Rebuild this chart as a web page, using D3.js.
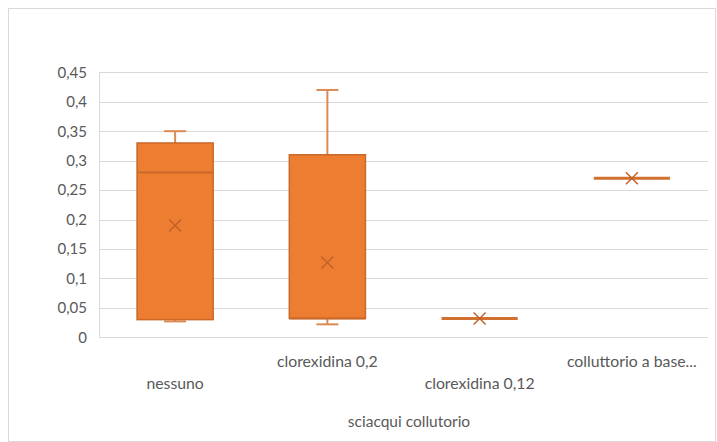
<!DOCTYPE html>
<html><head><meta charset="utf-8">
<script src="https://cdn.jsdelivr.net/npm/d3@7"></script>
<style>body{margin:0;background:#fff}svg{display:block}text{font-family:Lato,"Open Sans",sans-serif;fill:#595959}</style>
</head><body><svg id="c" width="717" height="442"></svg>
<script>
const categories = ["nessuno", "clorexidina 0,2", "clorexidina 0,12", "colluttorio a base..."];
const minVals    = [0.027, 0.022, 0.032, 0.27];
const q1Vals     = [0.030, 0.032, 0.032, 0.27];
const medianVals = [0.280, 0.032, 0.032, 0.27];
const q3Vals     = [0.330, 0.310, 0.032, 0.27];
const maxVals    = [0.350, 0.420, 0.032, 0.27];
const meanVals   = [0.190, 0.127, 0.032, 0.27];
const yTicks = [0, 0.05, 0.1, 0.15, 0.2, 0.25, 0.3, 0.35, 0.4, 0.45];
const yTickLabels = ["0", "0,05", "0,1", "0,15", "0,2", "0,25", "0,3", "0,35", "0,4", "0,45"];
const xTitle = "sciacqui collutorio";

const svg = d3.select("#c");
const L = 99, R = 708, T = 72.3, B = 337.3;
svg.append("rect").attr("x", 8.5).attr("y", 8.5).attr("width", 707).attr("height", 433).attr("fill", "#fff").attr("stroke", "#d9d9d9");

const x = d3.scaleBand().domain(categories).range([L, R]).paddingInner(0).paddingOuter(0);
const y = d3.scaleLinear().domain([0, 0.45]).range([B, T]);

// gridlines
svg.append("g").selectAll("line").data(yTicks).join("line")
  .attr("x1", L).attr("x2", R).attr("y1", d => Math.round(y(d)) + 0.5).attr("y2", d => Math.round(y(d)) + 0.5)
  .attr("stroke", "#d9d9d9").attr("stroke-width", 1);
svg.append("line").attr("x1", L + 0.5).attr("x2", L + 0.5).attr("y1", T).attr("y2", B).attr("stroke", "#d9d9d9");

// y axis
const yAxis = d3.axisLeft(y).tickValues(yTicks).tickFormat((d, i) => yTickLabels[i]).tickSize(0).tickPadding(12);
const ga = svg.append("g").attr("transform", `translate(${L},0)`).call(yAxis);
ga.select(".domain").remove();
ga.selectAll("text").attr("font-size", 15).style("font-family", "Lato, sans-serif").attr("fill", "#595959");

// x labels, staggered
svg.append("g").selectAll("text").data(categories).join("text")
  .attr("x", d => x(d) + x.bandwidth() / 2)
  .attr("y", (d, i) => i % 2 === 0 ? 389 : 367)
  .attr("text-anchor", "middle").attr("font-size", 15.8).text(d => d);
svg.append("text").attr("x", 409).attr("y", 427).attr("text-anchor", "middle").attr("font-size", 15.5).text(xTitle);

const boxW = x.bandwidth() * 0.5;
const capW = 22;
const g = svg.append("g");
categories.forEach((c, i) => {
  const cx = x(c) + x.bandwidth() / 2;
  const fill = "#ed7d31", stroke = "#c9692a", wh = "#dc8a52";
  const collapsed = q3Vals[i] === q1Vals[i];
  // whiskers
  if (maxVals[i] > q3Vals[i]) {
    g.append("line").attr("x1", cx).attr("x2", cx).attr("y1", y(maxVals[i])).attr("y2", y(q3Vals[i])).attr("stroke", wh).attr("stroke-width", 2);
    g.append("line").attr("x1", cx - capW / 2).attr("x2", cx + capW / 2).attr("y1", y(maxVals[i])).attr("y2", y(maxVals[i])).attr("stroke", wh).attr("stroke-width", 2);
  }
  if (minVals[i] < q1Vals[i]) {
    g.append("line").attr("x1", cx).attr("x2", cx).attr("y1", y(minVals[i])).attr("y2", y(q1Vals[i])).attr("stroke", wh).attr("stroke-width", 2);
    g.append("line").attr("x1", cx - capW / 2).attr("x2", cx + capW / 2).attr("y1", y(minVals[i])).attr("y2", y(minVals[i])).attr("stroke", wh).attr("stroke-width", 2);
  }
  if (!collapsed) {
    g.append("rect").attr("x", cx - boxW / 2).attr("y", y(q3Vals[i])).attr("width", boxW)
      .attr("height", y(q1Vals[i]) - y(q3Vals[i])).attr("fill", fill).attr("stroke", stroke).attr("stroke-width", 1.5);
  }
  g.append("line").attr("x1", cx - boxW / 2).attr("x2", cx + boxW / 2).attr("y1", y(medianVals[i])).attr("y2", y(medianVals[i]))
    .attr("stroke", collapsed ? "#d2702f" : stroke).attr("stroke-width", collapsed ? 3 : 2);
  // mean marker
  const my = y(meanVals[i]), s = 6;
  g.append("path").attr("d", `M${cx - s},${my - s}L${cx + s},${my + s}M${cx - s},${my + s}L${cx + s},${my - s}`)
    .attr("stroke", "#c0622a").attr("stroke-width", 1.5).attr("fill", "none");
});
</script></body></html>
